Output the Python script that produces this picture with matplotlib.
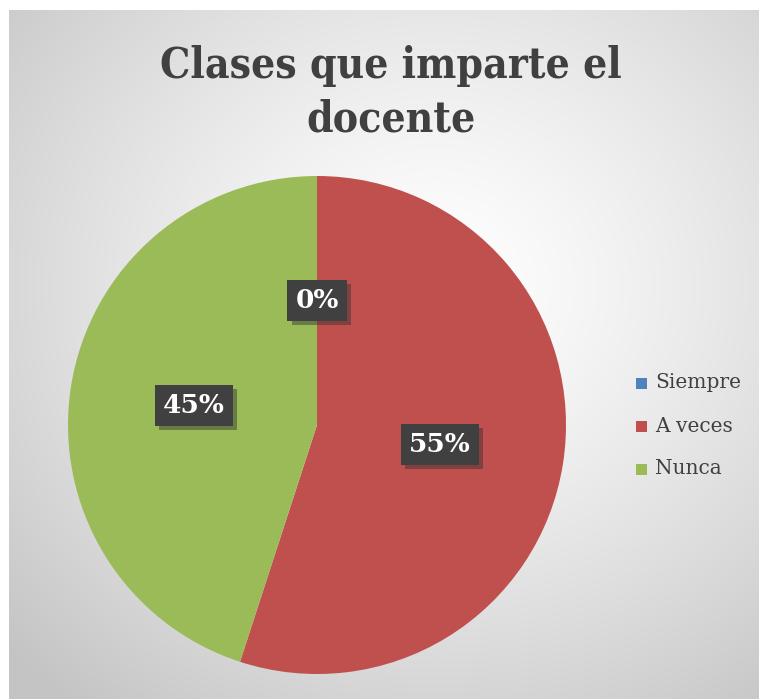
import numpy as np
import matplotlib
matplotlib.use("Agg")
import matplotlib.pyplot as plt
import matplotlib.patheffects as pe
from matplotlib.patches import Rectangle

title = "Clases que imparte el\ndocente"
categories = ["Siempre", "A veces", "Nunca"]
values = [0, 55, 45]
labels = ["0%", "55%", "45%"]
colors = ["#4F81BD", "#C0504D", "#9BBB59"]

W, H = 759, 699
fig = plt.figure(figsize=(W / 100, H / 100), dpi=100)
fig.patch.set_facecolor("white")

# background gradient panel
bg = fig.add_axes([9 / W, 0, (W - 9) / W, (H - 10) / H])
bg.set_axis_off()
nx, ny = 300, 280
xx, yy = np.meshgrid(np.linspace(0, 1, nx), np.linspace(0, 1, ny))
d = np.sqrt(((xx - 0.57) / 0.78) ** 2 + ((yy - 0.40) / 0.78) ** 2)
d = np.clip(d, 0, 1)
v = 1.0 - (1.0 - 0.77) * d ** 1.3
img = np.dstack([v, v, v])
bg.imshow(img, extent=[0, 1, 0, 1], origin="upper", aspect="auto", interpolation="bilinear")
bg.set_xlim(0, 1)
bg.set_ylim(0, 1)

cx, cy, r = 317, H - 425, 249
ax = fig.add_axes([(cx - r) / W, (cy - r) / H, 2 * r / W, 2 * r / H])
ax.set_axis_off()
wedges, _ = ax.pie(values, colors=colors, startangle=90, counterclock=False,
                   radius=1.0, wedgeprops=dict(linewidth=0))
ax.set_xlim(-1, 1)
ax.set_ylim(-1, 1)
ax.set_aspect("equal")

total = sum(values)
ang = 90.0
for val, lab in zip(values, labels):
    span = 360.0 * val / total
    mid = np.deg2rad(ang - span / 2)
    ang -= span
    t = ax.text(0.5 * np.cos(mid), 0.5 * np.sin(mid), lab, ha="center", va="center",
                fontsize=19, fontweight="bold", color="white", family="DejaVu Serif",
                bbox=dict(boxstyle="square,pad=0.3", facecolor="#404040", edgecolor="none"))
    t.get_bbox_patch().set_path_effects([pe.withSimplePatchShadow(offset=(3, -3), shadow_rgbFace="#303030", alpha=0.45)])

fig.text(391 / W, 1 - 93 / H, title, ha="center", va="center", fontsize=30.5,
         fontweight="bold", color="#404040", family="DejaVu Serif",
         fontstretch="condensed", linespacing=1.36)

ys = [383, 426, 469]
for c, name, y in zip(colors, categories, ys):
    fig.patches.append(Rectangle(((636) / W, (H - y - 5.5) / H), 11 / W, 11 / H,
                                 transform=fig.transFigure, facecolor=c, edgecolor="none"))
    fig.text(655 / W, (H - y) / H, name, ha="left", va="center", fontsize=14.5,
             color="#404040", family="DejaVu Serif")

fig.savefig("out.png", dpi=100, facecolor="white")
